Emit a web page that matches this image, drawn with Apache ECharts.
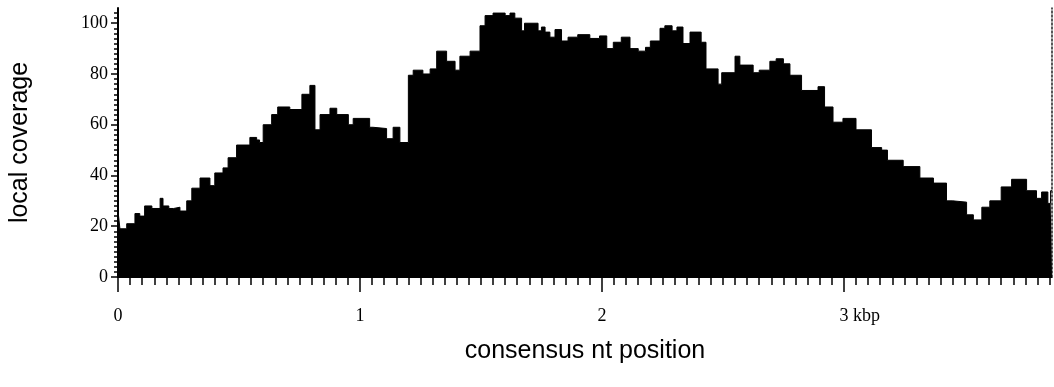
<!DOCTYPE html>
<html>
<head>
<meta charset="utf-8">
<script src="https://cdn.jsdelivr.net/npm/echarts@6/dist/echarts.min.js"></script>
<style>
  html, body { margin: 0; padding: 0; background: #fff; }
  #chart { width: 1054px; height: 387px; }
</style>
</head>
<body>
<div id="chart"></div>
<script>
// position along the consensus (kbp), start of each step
var positions = [
  0.000, 0.008, 0.036, 0.070, 0.090, 0.110, 0.140, 0.174, 0.186, 0.210,
  0.230, 0.256, 0.284, 0.305, 0.339, 0.380, 0.400, 0.434, 0.455, 0.490,
  0.545, 0.573, 0.585, 0.600, 0.635, 0.660, 0.710, 0.760, 0.793, 0.814,
  0.835, 0.876, 0.904, 0.952, 0.972, 1.040, 1.054, 1.110, 1.137, 1.165,
  1.200, 1.220, 1.260, 1.290, 1.317, 1.358, 1.393, 1.413, 1.455, 1.496,
  1.517, 1.550, 1.600, 1.620, 1.640, 1.668, 1.680, 1.736, 1.750, 1.765,
  1.785, 1.806, 1.833, 1.860, 1.900, 1.950, 1.990, 2.020, 2.047, 2.080,
  2.116, 2.150, 2.180, 2.200, 2.240, 2.260, 2.290, 2.310, 2.335, 2.364,
  2.410, 2.430, 2.480, 2.495, 2.550, 2.570, 2.625, 2.650, 2.694, 2.720,
  2.750, 2.777, 2.825, 2.893, 2.920, 2.955, 2.996, 3.050, 3.114, 3.156,
  3.180, 3.245, 3.314, 3.370, 3.424, 3.450, 3.507, 3.535, 3.570, 3.603,
  3.650, 3.693, 3.755, 3.796, 3.817, 3.843, 3.854, 3.860
];
// local coverage at each step
var coverage = [
  26, 19, 21, 25, 24, 28, 27, 31, 28, 27,
  27.5, 26, 30, 35, 39, 36, 41, 43, 47, 52,
  55, 54, 53, 60, 64, 67, 66, 72, 75.5, 58,
  64, 66.5, 64, 60, 62.5, 59, 58.5, 54.5, 59, 53,
  79.5, 81.5, 80, 82, 89, 85, 81.5, 87, 89, 99,
  103, 104, 103, 104, 102, 97, 100, 97, 98.5, 96.5,
  94.5, 97.5, 93, 94.5, 95.5, 94, 95, 90, 92.5, 94.5,
  90, 89, 90.5, 93, 98, 99, 97, 98.5, 92, 96.5,
  92.5, 82, 76, 80.5, 87, 83.5, 80.5, 81.5, 85, 86,
  84, 79.5, 73.5, 75, 67, 61, 62.5, 58, 51, 50,
  46, 43.5, 39, 37, 30, 29.5, 24.5, 22.5, 27.5, 30,
  35.5, 38.5, 34, 31, 33.5, 29, 34, 34
];
var xMajorTicks = [0, 1, 2, 3];
var yMajorTicks = [0, 20, 40, 60, 80, 100];

var X_MAX = 3.86;
var Y_MAX = 106;

var xMinorTicks = [];
for (var i = 0; i <= 77; i++) xMinorTicks.push(Math.round(i * 5) / 100);
var yMinorTicks = [];
for (var j = 0; j <= 52; j++) yMinorTicks.push(j * 2);

var seriesData = [];
for (var k = 0; k < positions.length; k++) {
  seriesData.push([positions[k], coverage[k]]);
}

var serif = 'Liberation Serif, Times New Roman, serif';
var sans = 'Liberation Sans, Arial, sans-serif';

var chart = echarts.init(document.getElementById('chart'));
chart.setOption({
  animation: false,
  backgroundColor: '#fff',
  grid: { left: 118, right: 2, top: 8, bottom: 110 },
  xAxis: [
    {
      type: 'value', min: 0, max: X_MAX, position: 'bottom',
      axisLine: { show: true, onZero: false, lineStyle: { color: '#000', width: 1 } },
      axisTick: { show: true, customValues: xMinorTicks, length: 8, lineStyle: { color: '#000', width: 1.5 } },
      axisLabel: { show: false },
      splitLine: { show: false }
    },
    {
      type: 'value', min: 0, max: X_MAX, position: 'bottom',
      axisLine: { show: false, onZero: false },
      axisTick: { show: true, customValues: xMajorTicks, length: 15, lineStyle: { color: '#000', width: 1.5 } },
      axisLabel: {
        show: true, customValues: xMajorTicks, margin: 30,
        fontFamily: serif, fontSize: 18, color: '#000',
        formatter: function (v) {
          if (v === 3) return '{h| kbp}3 kbp';
          return String(v);
        },
        rich: { h: { color: 'rgba(0,0,0,0)', fontFamily: serif, fontSize: 18 } }
      },
      splitLine: { show: false },
      name: 'consensus nt position',
      nameLocation: 'middle',
      nameGap: 62,
      nameTextStyle: { fontFamily: sans, fontSize: 25, color: '#000' }
    }
  ],
  yAxis: [
    {
      type: 'value', min: 0, max: Y_MAX, position: 'left',
      axisLine: { show: true, onZero: false, lineStyle: { color: '#000', width: 2 } },
      axisTick: { show: true, customValues: yMajorTicks, length: 7, lineStyle: { color: '#000', width: 1.5 } },
      axisLabel: {
        show: true, customValues: yMajorTicks, margin: 10,
        fontFamily: serif, fontSize: 18, color: '#000'
      },
      splitLine: { show: false },
      name: 'local coverage',
      nameLocation: 'middle',
      nameGap: 85,
      nameTextStyle: { fontFamily: sans, fontSize: 25, color: '#000' }
    },
    {
      type: 'value', min: 0, max: Y_MAX, position: 'left',
      axisLine: { show: false, onZero: false },
      axisTick: { show: true, customValues: yMinorTicks, length: 4, lineStyle: { color: '#000', width: 1.5 } },
      axisLabel: { show: false },
      splitLine: { show: false }
    },
    {
      type: 'value', min: 0, max: Y_MAX, position: 'right',
      axisLine: { show: true, onZero: false, lineStyle: { color: '#222', width: 1.5, type: [2, 2] } },
      axisTick: { show: false },
      axisLabel: { show: false },
      splitLine: { show: false }
    }
  ],
  series: [
    {
      type: 'line',
      xAxisIndex: 0,
      yAxisIndex: 0,
      step: 'end',
      symbol: 'none',
      data: seriesData,
      lineStyle: { color: '#000', width: 1 },
      areaStyle: { color: '#000', opacity: 1 }
    }
  ]
});
</script>
</body>
</html>
